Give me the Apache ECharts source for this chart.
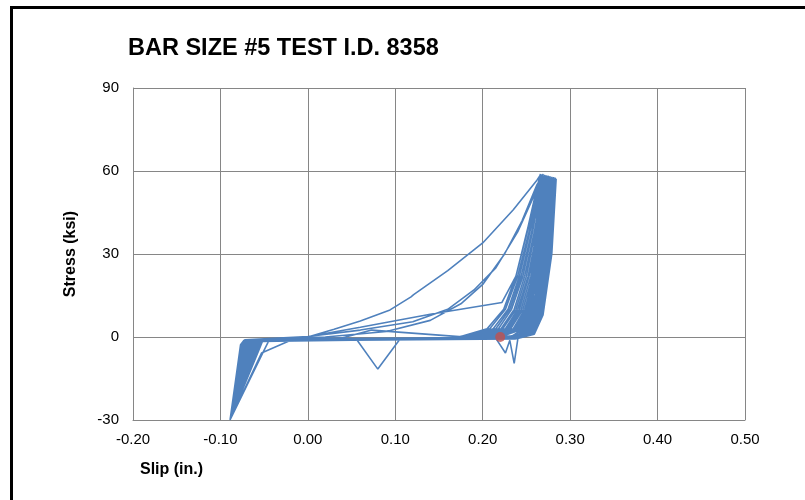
<!DOCTYPE html>
<html>
<head>
<meta charset="utf-8">
<script src="https://cdn.jsdelivr.net/npm/echarts@6/dist/echarts.min.js"></script>
<style>
html,body{margin:0;padding:0;background:#fff;}
#chart{width:805px;height:500px;}
</style>
</head>
<body>
<div id="chart"></div>
<script>
// ---- axis ticks ----
const xTicks = [-0.2, -0.1, 0, 0.1, 0.2, 0.3, 0.4, 0.5];
const yTicks = [-30, 0, 30, 60, 90];

// ---- [slip (in.), stress (ksi)] cycles ----
const cycleA = [[0,0],[0.03,2.8],[0.06,5.8],[0.094,9.8],[0.118,14.5],[0.119,14.0],[0.121,15.3],[0.16,24],[0.2,34],[0.235,46],[0.262,56.7],[0.266,58.6],[0.262,42],[0.255,20],[0.247,5],[0.238,0.5],[0.2,-0.4],[0.105,-0.9],[0.08,-11.6],[0.056,-1],[0,-1.1],[-0.045,-1.6],[-0.051,-5.4],[-0.089,-30]];
const cycleB = [[-0.089,-30],[-0.053,-5.8],[-0.017,-0.8],[0.06,3.5],[0.14,8.2],[0.222,12.5],[0.238,22],[0.252,40],[0.262,54],[0.266,58.9],[0.261,40],[0.254,18],[0.246,4],[0.236,0.3],[0.2,-0.5],[0.073,2.5],[0.04,-0.3],[-0.02,-1.0],[-0.054,-1.6],[-0.058,-4],[-0.089,-30]];
const cycleC = [[-0.089,-30],[-0.077,-3],[-0.072,-1],[0.0,0.2],[0.06,2.5],[0.12,5.5],[0.16,10],[0.19,17],[0.215,25],[0.24,38],[0.26,52],[0.267,58.3],[0.262,38],[0.255,16],[0.247,3],[0.23,-0.3],[0.1,-0.9],[-0.056,-1.3],[-0.059,-4],[-0.089,-30]];
const cycleD = [[-0.089,-30],[-0.076,-4],[-0.078,-6],[-0.073,-1.2],[0.02,0],[0.09,2],[0.14,6],[0.175,12],[0.2,19],[0.225,30],[0.245,42],[0.262,55],[0.268,58.5],[0.263,40],[0.256,17],[0.248,3],[0.232,-0.4],[0.1,-1],[-0.058,-1.4],[-0.061,-4],[-0.089,-30]];
const cycle01 = [[-0.089,-30],[-0.076,-2.5],[-0.072,-1.2],[0.05,-0.7],[0.17,-0.3],[0.205,3],[0.224,10],[0.238,22],[0.251,38],[0.26,50],[0.267,58.8],[0.259,30],[0.25,8],[0.24,1],[0.22,-0.6],[0.05,-1.1],[-0.062,-1.5],[-0.065,-4]];
const cycle02 = [[-0.089,-30],[-0.069,-2.4],[-0.065,-1.1],[0.05,-0.6],[0.175,-0.3],[0.208,3],[0.226,10],[0.24,22],[0.253,38],[0.261,50],[0.268,58.5],[0.26,30],[0.252,8],[0.242,1],[0.222,-0.7],[0.05,-1.2],[-0.058,-1.6],[-0.061,-4]];
const cycle03 = [[-0.089,-30],[-0.075,-3.5],[-0.077,-5.5],[-0.071,-1.3],[0.05,-0.8],[0.18,-0.2],[0.212,3],[0.229,10],[0.242,22],[0.254,38],[0.262,50],[0.269,58.9],[0.262,30],[0.253,8],[0.243,1],[0.223,-0.6],[0.05,-1.0],[-0.064,-1.4],[-0.067,-4]];
const cycle04 = [[-0.089,-30],[-0.066,-2.3],[-0.062,-1.0],[0.05,-0.6],[0.182,-0.3],[0.215,3],[0.231,10],[0.244,22],[0.256,38],[0.263,50],[0.27,58.2],[0.263,30],[0.254,8],[0.245,1],[0.225,-0.7],[0.05,-1.2],[-0.055,-1.5],[-0.058,-4]];
const cycle05 = [[-0.089,-30],[-0.072,-3.2],[-0.068,-1.2],[0.05,-0.7],[0.186,-0.2],[0.218,3],[0.233,10],[0.246,22],[0.257,38],[0.264,50],[0.271,58.6],[0.264,30],[0.255,8],[0.246,1],[0.226,-0.6],[0.05,-1.1],[-0.06,-1.6],[-0.063,-4]];
const cycle06 = [[-0.089,-30],[-0.068,-2.6],[-0.064,-1.1],[0.05,-0.8],[0.188,-0.3],[0.221,3],[0.236,10],[0.248,22],[0.259,38],[0.266,50],[0.272,58.0],[0.266,30],[0.257,8],[0.247,1],[0.227,-0.7],[0.05,-1.0],[-0.057,-1.5],[-0.06,-4]];
const cycle07 = [[-0.089,-30],[-0.075,-4],[-0.078,-6.5],[-0.072,-1.2],[0.05,-0.6],[0.19,-0.2],[0.223,3],[0.238,10],[0.25,22],[0.26,38],[0.267,50],[0.273,58.4],[0.267,30],[0.258,8],[0.248,1],[0.228,-0.6],[0.05,-1.2],[-0.063,-1.4],[-0.066,-4]];
const cycle08 = [[-0.089,-30],[-0.064,-2.2],[-0.061,-1.0],[0.05,-0.7],[0.193,-0.3],[0.226,3],[0.24,10],[0.252,22],[0.262,38],[0.268,50],[0.274,57.9],[0.268,30],[0.259,8],[0.249,1],[0.229,-0.7],[0.05,-1.1],[-0.054,-1.6],[-0.057,-4]];
const cycle09 = [[-0.089,-30],[-0.071,-2.8],[-0.067,-1.1],[0.05,-0.8],[0.195,-0.2],[0.228,3],[0.242,10],[0.253,22],[0.263,38],[0.269,50],[0.275,58.3],[0.269,30],[0.26,8],[0.25,1],[0.23,-0.6],[0.05,-1.0],[-0.061,-1.5],[-0.064,-4]];
const cycle10 = [[-0.089,-30],[-0.067,-2.5],[-0.063,-1.2],[0.05,-0.6],[0.197,-0.3],[0.23,3],[0.244,10],[0.255,22],[0.265,38],[0.271,50],[0.276,57.7],[0.271,30],[0.261,8],[0.251,1],[0.231,-0.7],[0.05,-1.2],[-0.056,-1.4],[-0.059,-4]];
const cycle11 = [[-0.089,-30],[-0.074,-4.5],[-0.077,-7],[-0.071,-1.1],[0.05,-0.7],[0.2,-0.2],[0.232,3],[0.246,10],[0.257,22],[0.266,38],[0.272,50],[0.277,58.1],[0.272,30],[0.262,8],[0.252,1],[0.232,-0.6],[0.05,-1.1],[-0.065,-1.6],[-0.068,-4]];
const cycle12 = [[-0.089,-30],[-0.065,-2.4],[-0.061,-1.0],[0.05,-0.8],[0.202,-0.3],[0.235,3],[0.248,10],[0.259,22],[0.268,38],[0.273,50],[0.278,57.6],[0.273,30],[0.263,8],[0.253,1],[0.233,-0.7],[0.05,-1.0],[-0.059,-1.5],[-0.062,-4]];
const cycle13 = [[-0.089,-30],[-0.07,-3.1],[-0.066,-1.2],[0.05,-0.6],[0.205,-0.2],[0.237,3],[0.25,10],[0.26,22],[0.269,38],[0.274,50],[0.279,57.9],[0.274,30],[0.264,8],[0.254,1],[0.234,-0.6],[0.05,-1.2],[-0.053,-1.4],[-0.056,-4]];
const cycle14 = [[-0.089,-30],[-0.073,-2.7],[-0.069,-1.1],[0.05,-0.7],[0.207,-0.3],[0.239,3],[0.252,10],[0.262,22],[0.27,38],[0.275,50],[0.28,57.4],[0.275,30],[0.265,8],[0.255,1],[0.235,-0.7],[0.05,-1.1],[-0.062,-1.6],[-0.065,-4]];
const cycle15 = [[-0.089,-30],[-0.076,-5],[-0.078,-7.5],[-0.072,-1.2],[0.05,-0.8],[0.21,-0.2],[0.241,3],[0.254,10],[0.263,22],[0.271,38],[0.276,50],[0.281,57.8],[0.276,30],[0.266,8],[0.256,1],[0.236,-0.6],[0.05,-1.0],[-0.057,-1.5],[-0.06,-4]];
const cycle16 = [[-0.089,-30],[-0.069,-2.6],[-0.065,-1.0],[0.05,-0.6],[0.212,-0.3],[0.243,3],[0.256,10],[0.265,22],[0.272,38],[0.277,50],[0.282,57.3],[0.277,30],[0.267,8],[0.257,1],[0.237,-0.7],[0.05,-1.2],[-0.06,-1.4],[-0.063,-4]];
const cycle17 = [[-0.089,-30],[-0.072,-2.9],[-0.068,-1.1],[0.05,-0.7],[0.2,-0.4],[0.215,-0.5],[0.226,-5.8],[0.231,-1.2],[0.236,-9.5],[0.24,-1],[0.245,3],[0.257,10],[0.266,22],[0.273,38],[0.278,50],[0.283,57.6],[0.278,30],[0.268,8],[0.258,1],[0.238,-0.6],[0.05,-1.1],[-0.052,-1.6],[-0.055,-4]];
const cycle18 = [[-0.089,-30],[-0.077,-2.8],[-0.073,-1.2],[0.05,-0.8],[0.218,-0.2],[0.247,3],[0.259,10],[0.267,22],[0.274,38],[0.279,50],[0.284,57.2],[0.279,30],[0.269,8],[0.259,1],[0.24,-0.5],[0.22,0]];
const lastPoint = [[0.22, 0]];

const cycles = [cycleA, cycleB, cycleC, cycleD, cycle01, cycle02, cycle03, cycle04, cycle05, cycle06,
  cycle07, cycle08, cycle09, cycle10, cycle11, cycle12, cycle13, cycle14, cycle15, cycle16, cycle17, cycle18];
const hysteresis = [].concat(...cycles);

const chart = echarts.init(document.getElementById('chart'), null, {renderer: 'canvas'});
const font = "'Liberation Sans', Arial, sans-serif";
chart.setOption({
  animation: false,
  backgroundColor: '#ffffff',
  title: {
    text: 'BAR SIZE #5 TEST I.D. 8358',
    left: 123, top: 32,
    textStyle: {fontFamily: font, fontWeight: 'bold', fontSize: 23.5, color: '#000'}
  },
  graphic: [
    {type: 'rect', shape: {x: 11.5, y: 7.5, width: 900, height: 600}, style: {fill: 'none', stroke: '#000', lineWidth: 3}, silent: true},
    {type: 'text', left: 140, top: 462, style: {text: 'Slip (in.)', font: "bold 16px " + font, fill: '#000'}}
  ],
  grid: {left: 133, right: 60, top: 88, bottom: 80, containLabel: false},
  xAxis: {
    type: 'value', min: xTicks[0], max: xTicks[xTicks.length - 1], interval: 0.1,
    axisLine: {show: true, onZero: false, lineStyle: {color: '#868686', width: 1}},
    axisTick: {show: false},
    splitLine: {show: true, lineStyle: {color: '#868686', width: 1}},
    axisLabel: {color: '#000', fontFamily: font, fontSize: 15, margin: 12,
      formatter: v => v.toFixed(2)}
  },
  yAxis: {
    type: 'value', min: yTicks[0], max: yTicks[yTicks.length - 1], interval: 30,
    name: 'Stress (ksi)', nameLocation: 'middle', nameGap: 54, nameRotate: 90,
    nameTextStyle: {fontFamily: font, fontWeight: 'bold', fontSize: 16, color: '#000'},
    axisLine: {show: true, onZero: false, lineStyle: {color: '#868686', width: 1}},
    axisTick: {show: false},
    splitLine: {show: true, lineStyle: {color: '#868686', width: 1}},
    axisLabel: {color: '#000', fontFamily: font, fontSize: 15, margin: 14}
  },
  series: [
    {type: 'line', data: hysteresis, showSymbol: false, symbol: 'none', smooth: false,
     lineStyle: {color: '#4F81BD', width: 1.6}, z: 2},
    {type: 'scatter', data: lastPoint, symbol: 'circle', symbolSize: 10,
     itemStyle: {color: '#C0504D'}, z: 3}
  ]
});
</script>
</body>
</html>
